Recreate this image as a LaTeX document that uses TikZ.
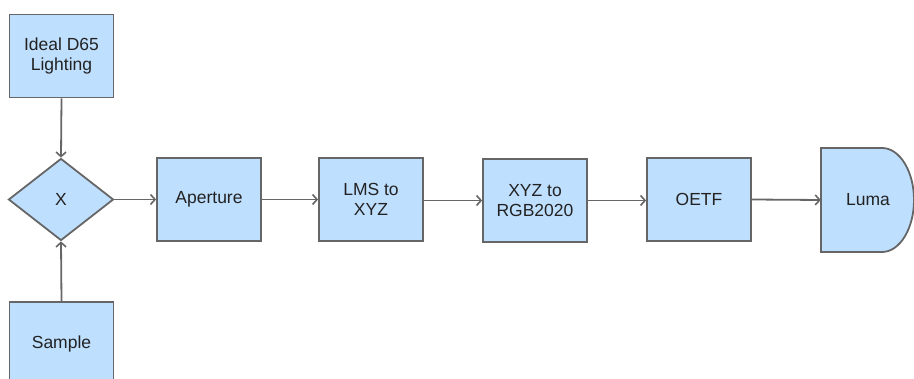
\documentclass[tikz,border=0pt]{standalone}
\usepackage{fontspec}
\setmainfont{Liberation Sans}
\usetikzlibrary{arrows.meta,shapes.geometric}
\definecolor{boxfill}{HTML}{BFDFFF}
\definecolor{edgegrey}{HTML}{666666}
\definecolor{txt}{HTML}{222222}
\begin{document}
\begin{tikzpicture}[x=1pt,y=-1pt,
  font=\fontsize{17.5}{20.5}\selectfont,
  box/.style={draw=edgegrey,line width=1.8pt,fill=boxfill,text=txt,
    minimum width=104pt,minimum height=83pt,inner sep=0pt,align=center},
  dia/.style={draw=edgegrey,line width=1.8pt,fill=boxfill,text=txt,diamond,
    minimum width=105pt,minimum height=82pt,inner sep=0pt,aspect=1.28},
  conn/.style={draw=edgegrey,line width=1.8pt,-{Straight Barb[length=4.5pt,width=10pt,line width=1.6pt]}}]
\useasboundingbox (0,0) rectangle (914,379);
\node[box] (ideal) at (61.5,56) {Ideal D65\\Lighting};
\node[dia] (x) at (61,199.5) {X};
\node[box,minimum height=84pt] (sample) at (61.5,344) {Sample};
\node[box] (ap) at (209,199.5) {Aperture};
\node[box] (lms) at (371,199.5) {LMS to\\XYZ};
\node[box] (rgb) at (535,200.5) {XYZ to\\RGB2020};
\node[box] (oetf) at (699,199.5) {OETF};
\draw[draw=edgegrey,line width=1.8pt,fill=boxfill]
  (821,148) -- (882,148) arc[start angle=-90,end angle=90,x radius=32,y radius=52] -- (821,252) -- cycle;
\node[text=txt,inner sep=0pt,minimum width=94pt,minimum height=104pt] (luma) at (868,200) {Luma};
\draw[conn] (ideal.south) -- (x.north);
\draw[conn] (sample.north) -- (x.south);
\draw[conn] (x.east) -- (ap.west);
\draw[conn] (ap.east) -- (lms.west);
\draw[conn] (lms.east |- rgb.west) -- (rgb.west);
\draw[conn] (rgb.east) -- (oetf.west |- rgb.east);
\draw[conn] (oetf.east) -- (luma.west);
\end{tikzpicture}
\end{document}
